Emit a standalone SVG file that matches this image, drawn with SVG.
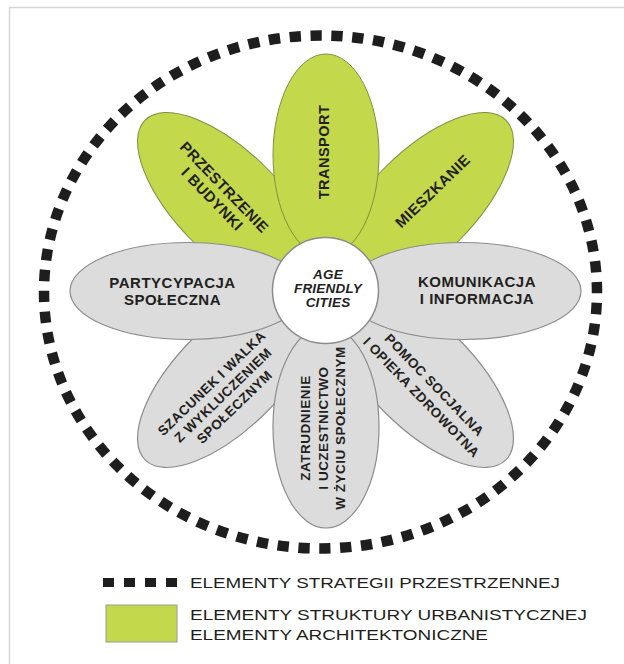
<svg xmlns="http://www.w3.org/2000/svg" width="624" height="664" viewBox="0 0 624 664">
<style>
.g{fill:#c4d84c;stroke:#7f8f45;stroke-width:1}
.s{fill:#dcdcdc;stroke:#8c8c8c;stroke-width:1.2}
.t{font-family:"Liberation Sans",Arial,sans-serif;font-weight:bold;fill:#231f20;text-anchor:middle}
.lg{font-size:15px;letter-spacing:0.5px}
.sm{font-size:13.5px;letter-spacing:0.5px}
.ctr{font-size:13.5px;font-style:italic;letter-spacing:0.2px}
.leg{font-family:"Liberation Sans",Arial,sans-serif;font-size:15px;fill:#231f20}
.dots{fill:none;stroke:#1e1e1e}
</style>
<rect x="0" y="0" width="624" height="664" fill="#ffffff"/>
<rect x="9.5" y="7.5" width="700" height="700" fill="none" stroke="#d6d6d6" stroke-width="1.5"/>

<g id="strategy-ring">
<ellipse class="dots" cx="320.5" cy="292" rx="276.5" ry="256.5" stroke-width="10.5" pathLength="80" stroke-dasharray="0.54 0.46" stroke-dashoffset="0.48"/>
</g>

<g id="petal-przestrzenie">
<ellipse class="g" cx="230" cy="205" rx="120" ry="52" transform="rotate(45 230 205)"/>
<g transform="translate(218.5 193) rotate(46)">
<text class="t lg" x="0" y="-3">PRZESTRZENIE</text>
<text class="t lg" x="0" y="14">I BUDYNKI</text>
</g>
</g>
<g id="petal-mieszkanie">
<ellipse class="g" cx="421" cy="205" rx="120" ry="52" transform="rotate(-45 421 205)"/>
<text class="t lg" transform="translate(432.5 191) rotate(-44)" x="0" y="5.4">MIESZKANIE</text>
</g>
<g id="petal-transport">
<ellipse class="g" cx="326" cy="155" rx="53" ry="101"/>
<text class="t lg" style="font-size:14.5px" transform="translate(324 152) rotate(-90)" x="0" y="5.2">TRANSPORT</text>
</g>

<g id="petal-szacunek">
<ellipse class="s" cx="230" cy="375" rx="120" ry="52" transform="rotate(-45 230 375)"/>
<g transform="translate(223 395) rotate(-44)">
<text class="t sm" x="0" y="-11.7">SZACUNEK I WALKA</text>
<text class="t sm" x="0" y="4.8">Z WYKLUCZENIEM</text>
<text class="t sm" x="0" y="21.3">SPOŁECZNYM</text>
</g>
</g>
<g id="petal-pomoc">
<ellipse class="s" cx="421" cy="375" rx="120" ry="52" transform="rotate(45 421 375)"/>
<g transform="translate(428 391) rotate(46)">
<text class="t sm" x="0" y="-4.2">POMOC SOCJALNA</text>
<text class="t sm" x="0" y="13.8">I OPIEKA ZDROWOTNA</text>
</g>
</g>
<g id="petal-partycypacja">
<ellipse class="s" cx="188" cy="291" rx="118" ry="48.5"/>
<text class="t lg" x="172.5" y="288">PARTYCYPACJA</text>
<text class="t lg" x="172.5" y="305">SPOŁECZNA</text>
</g>
<g id="petal-komunikacja">
<ellipse class="s" cx="463" cy="291" rx="118" ry="48.5"/>
<text class="t lg" x="477" y="287">KOMUNIKACJA</text>
<text class="t lg" x="477" y="304">I INFORMACJA</text>
</g>
<g id="petal-zatrudnienie">
<ellipse class="s" cx="326" cy="427" rx="53" ry="101"/>
<g transform="translate(323 428) rotate(-90)">
<text class="t sm" x="0" y="-12.7">ZATRUDNIENIE</text>
<text class="t sm" x="0" y="4.8">I UCZESTNICTWO</text>
<text class="t sm" x="0" y="22.3">W ŻYCIU SPOŁECZNYM</text>
</g>
</g>

<g id="center">
<circle cx="325.5" cy="290.5" r="53" fill="#ffffff" stroke="#8c8c8c" stroke-width="1.5"/>
<text class="t ctr" x="328" y="279">AGE</text>
<text class="t ctr" x="328" y="293">FRIENDLY</text>
<text class="t ctr" x="328" y="307">CITIES</text>
</g>

<g id="legend">
<path class="dots" d="M103 582.5 H177" stroke-width="9" stroke-dasharray="11 10"/>
<text class="leg" x="190" y="588" textLength="370" lengthAdjust="spacingAndGlyphs">ELEMENTY STRATEGII PRZESTRZENNEJ</text>
<rect x="106" y="605" width="71" height="37" fill="#c4d84c" stroke="#9a9a9a" stroke-width="1"/>
<text class="leg" x="190" y="620" textLength="397" lengthAdjust="spacingAndGlyphs">ELEMENTY STRUKTURY URBANISTYCZNEJ</text>
<text class="leg" x="190" y="640" textLength="298" lengthAdjust="spacingAndGlyphs">ELEMENTY ARCHITEKTONICZNE</text>
</g>
</svg>
